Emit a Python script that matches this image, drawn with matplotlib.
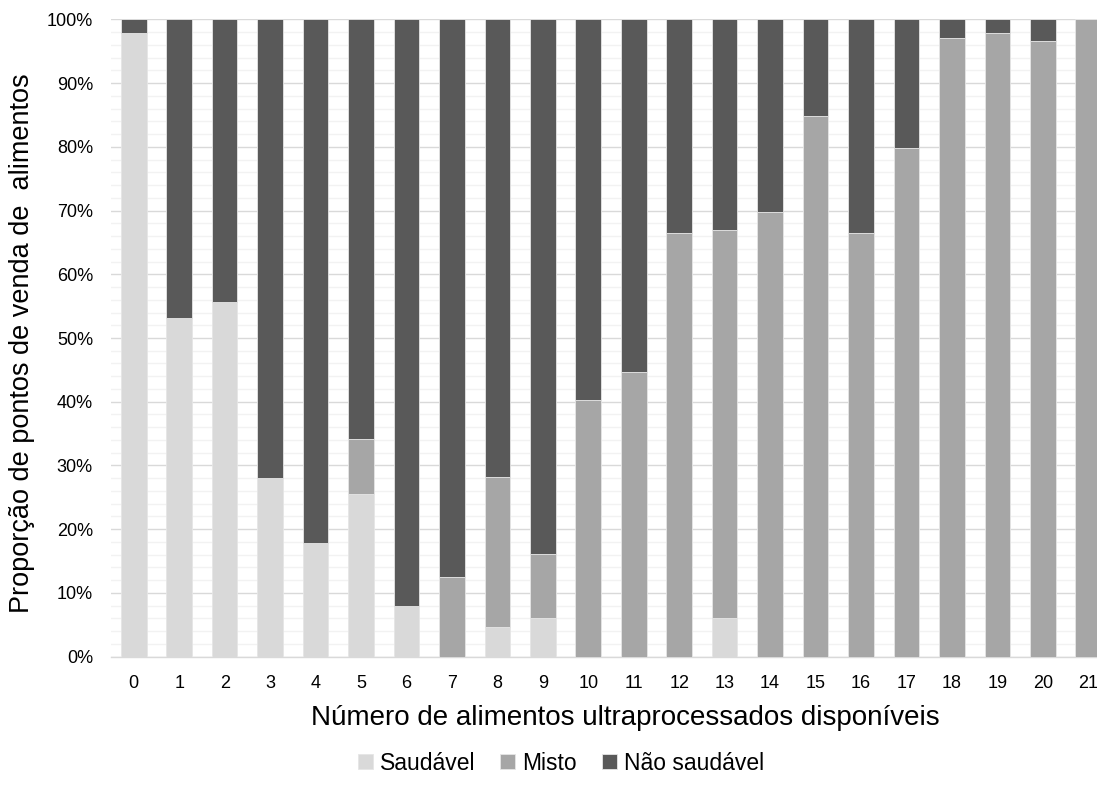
import numpy as np
import matplotlib
matplotlib.use("Agg")
import matplotlib.pyplot as plt
from matplotlib.ticker import MultipleLocator, PercentFormatter

plt.rcParams['font.family'] = ['Liberation Sans', 'DejaVu Sans']

# Data (percent of food outlets by number of ultra-processed foods available)
categorias = [str(i) for i in range(22)]
saudavel = [97.8, 53.2, 55.7, 28.0, 17.8, 25.6, 8.0, 0, 4.7, 6.0, 0, 0,
            0, 6.0, 0, 0, 0, 0, 0, 0, 0, 0]
misto = [0, 0, 0, 0, 0, 8.6, 0, 12.5, 23.5, 10.1, 40.3, 44.7,
         66.4, 61.0, 69.7, 84.8, 66.4, 79.8, 97.1, 97.8, 96.6, 100.0]
nao_saudavel = [100 - s - m for s, m in zip(saudavel, misto)]

cores = ['#d9d9d9', '#a6a6a6', '#595959']
rotulos = ['Saudável', 'Misto', 'Não saudável']

fig = plt.figure(figsize=(10.97, 7.98), dpi=100)
ax = fig.add_axes([111 / 1097, 1 - 656.7 / 798, 1000 / 1097, 637.4 / 798])

x = np.arange(len(categorias))
largura = 0.565
base = np.zeros(len(x))
for vals, cor, rot in zip([saudavel, misto, nao_saudavel], cores, rotulos):
    ax.bar(x, vals, largura, bottom=base, color=cor, label=rot,
           edgecolor='#e6e6e6', linewidth=0.6, zorder=3)
    base += np.array(vals)

ax.set_xlim(-0.5, 21.5)
ax.set_ylim(0, 100)
ax.yaxis.set_major_locator(MultipleLocator(10))
ax.yaxis.set_minor_locator(MultipleLocator(2))
ax.yaxis.set_major_formatter(PercentFormatter(decimals=0))
ax.grid(axis='y', which='major', color='#d9d9d9', linewidth=1.0, zorder=0)
ax.grid(axis='y', which='minor', color='#f2f2f2', linewidth=1.0, zorder=0)
ax.set_axisbelow(True)

ax.set_xticks(x)
ax.set_xticklabels(categorias)
ax.tick_params(axis='both', which='both', length=0, labelsize=13, colors='black')
ax.tick_params(axis='y', pad=13)
ax.tick_params(axis='x', pad=13)

for s in ['top', 'right', 'left']:
    ax.spines[s].set_visible(False)
ax.spines['bottom'].set_color('#d9d9d9')
ax.spines['bottom'].set_linewidth(1.0)

fig.text(625 / 1097, 1 - 718 / 798, 'Número de alimentos ultraprocessados disponíveis',
         ha='center', va='center', fontsize=20)
fig.text(22 / 1097, 1 - 343 / 798, 'Proporção de pontos de venda de  alimentos',
         ha='center', va='center', rotation=90, fontsize=19.5)

fig.legend(loc='center', bbox_to_anchor=(561 / 1097, 1 - 763 / 798), ncol=3,
           frameon=False, fontsize=16.5, handlelength=0.65, handleheight=0.65,
           handletextpad=0.3, columnspacing=1.1)

fig.savefig('out.png', dpi=100)
